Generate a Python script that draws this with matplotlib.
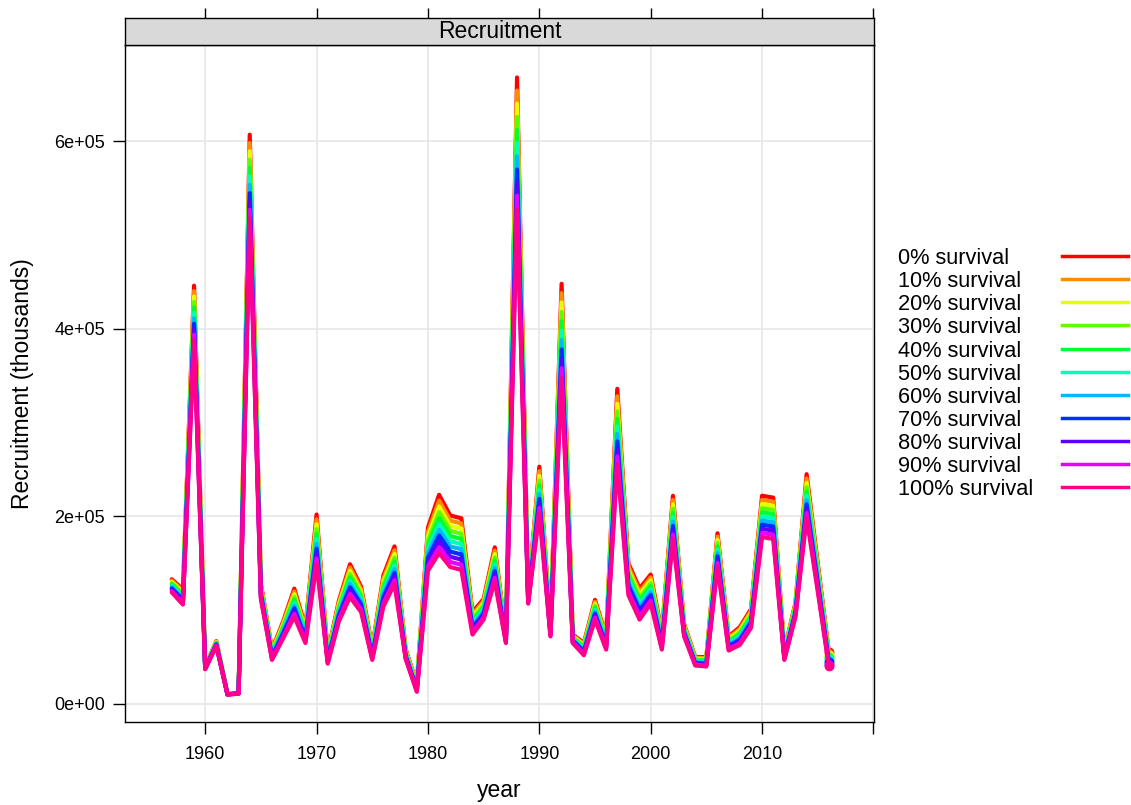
import matplotlib
matplotlib.use("Agg")
import matplotlib.pyplot as plt
from matplotlib.lines import Line2D
import numpy as np

plt.rcParams['font.family'] = ['Liberation Sans', 'DejaVu Sans']

years = np.arange(1957, 2017)

# recruitment estimates (thousands, in 1000s) for each assumed survival level
surv_0 = [133, 122, 446, 40, 67, 11, 12, 607, 128, 58,
          88, 123, 82, 202, 54, 110, 149, 125, 60, 137,
          168, 58, 22, 188, 223, 201, 198, 98, 112, 167,
          74, 668, 116, 253, 83, 448, 74, 65, 111, 72,
          336, 150, 123, 138, 76, 222, 85, 50, 50, 182,
          72, 82, 101, 222, 220, 57, 108, 245, 150, 55]
surv_10 = [131.6, 120.4, 440.2, 39.7, 66.5, 10.9, 11.9, 598.1, 126.4, 56.9,
           86.2, 120.0, 80.3, 196.8, 52.9, 107.8, 145.5, 122.3, 58.7, 133.7,
           164.0, 57.0, 21.1, 183.4, 216.8, 195.5, 192.5, 95.6, 109.8, 163.4,
           73.1, 654.0, 115.1, 248.1, 81.9, 438.0, 73.1, 63.7, 108.9, 70.6,
           328.0, 146.6, 119.7, 134.9, 74.2, 217.4, 83.7, 49.1, 49.0, 178.5,
           70.5, 80.1, 99.0, 217.6, 215.6, 56.0, 106.5, 240.4, 147.0, 53.5]
surv_20 = [130.2, 118.8, 434.4, 39.4, 66.0, 10.8, 11.8, 589.2, 124.8, 55.8,
           84.4, 117.0, 78.6, 191.6, 51.8, 105.6, 142.0, 119.6, 57.4, 130.4,
           160.0, 56.0, 20.2, 178.8, 210.6, 190.0, 187.0, 93.2, 107.6, 159.8,
           72.2, 640.0, 114.2, 243.2, 80.8, 428.0, 72.2, 62.4, 106.8, 69.2,
           320.0, 143.2, 116.4, 131.8, 72.4, 212.8, 82.4, 48.2, 48.0, 175.0,
           69.0, 78.2, 97.0, 213.2, 211.2, 55.0, 105.0, 235.8, 144.0, 52.0]
surv_30 = [128.8, 117.2, 428.6, 39.1, 65.5, 10.7, 11.7, 580.3, 123.2, 54.7,
           82.6, 114.0, 76.9, 186.4, 50.7, 103.4, 138.5, 116.9, 56.1, 127.1,
           156.0, 55.0, 19.3, 174.2, 204.4, 184.5, 181.5, 90.8, 105.4, 156.2,
           71.3, 626.0, 113.3, 238.3, 79.7, 418.0, 71.3, 61.1, 104.7, 67.8,
           312.0, 139.8, 113.1, 128.7, 70.6, 208.2, 81.1, 47.3, 47.0, 171.5,
           67.5, 76.3, 95.0, 208.8, 206.8, 54.0, 103.5, 231.2, 141.0, 50.5]
surv_40 = [127.4, 115.6, 422.8, 38.8, 65.0, 10.6, 11.6, 571.4, 121.6, 53.6,
           80.8, 111.0, 75.2, 181.2, 49.6, 101.2, 135.0, 114.2, 54.8, 123.8,
           152.0, 54.0, 18.4, 169.6, 198.2, 179.0, 176.0, 88.4, 103.2, 152.6,
           70.4, 612.0, 112.4, 233.4, 78.6, 408.0, 70.4, 59.8, 102.6, 66.4,
           304.0, 136.4, 109.8, 125.6, 68.8, 203.6, 79.8, 46.4, 46.0, 168.0,
           66.0, 74.4, 93.0, 204.4, 202.4, 53.0, 102.0, 226.6, 138.0, 49.0]
surv_50 = [126.0, 114.0, 417.0, 38.5, 64.5, 10.5, 11.5, 562.5, 120.0, 52.5,
           79.0, 108.0, 73.5, 176.0, 48.5, 99.0, 131.5, 111.5, 53.5, 120.5,
           148.0, 53.0, 17.5, 165.0, 192.0, 173.5, 170.5, 86.0, 101.0, 149.0,
           69.5, 598.0, 111.5, 228.5, 77.5, 398.0, 69.5, 58.5, 100.5, 65.0,
           296.0, 133.0, 106.5, 122.5, 67.0, 199.0, 78.5, 45.5, 45.0, 164.5,
           64.5, 72.5, 91.0, 200.0, 198.0, 52.0, 100.5, 222.0, 135.0, 47.5]
surv_60 = [124.6, 112.4, 411.2, 38.2, 64.0, 10.4, 11.4, 553.6, 118.4, 51.4,
           77.2, 105.0, 71.8, 170.8, 47.4, 96.8, 128.0, 108.8, 52.2, 117.2,
           144.0, 52.0, 16.6, 160.4, 185.8, 168.0, 165.0, 83.6, 98.8, 145.4,
           68.6, 584.0, 110.6, 223.6, 76.4, 388.0, 68.6, 57.2, 98.4, 63.6,
           288.0, 129.6, 103.2, 119.4, 65.2, 194.4, 77.2, 44.6, 44.0, 161.0,
           63.0, 70.6, 89.0, 195.6, 193.6, 51.0, 99.0, 217.4, 132.0, 46.0]
surv_70 = [123.2, 110.8, 405.4, 37.9, 63.5, 10.3, 11.3, 544.7, 116.8, 50.3,
           75.4, 102.0, 70.1, 165.6, 46.3, 94.6, 124.5, 106.1, 50.9, 113.9,
           140.0, 51.0, 15.7, 155.8, 179.6, 162.5, 159.5, 81.2, 96.6, 141.8,
           67.7, 570.0, 109.7, 218.7, 75.3, 378.0, 67.7, 55.9, 96.3, 62.2,
           280.0, 126.2, 99.9, 116.3, 63.4, 189.8, 75.9, 43.7, 43.0, 157.5,
           61.5, 68.7, 87.0, 191.2, 189.2, 50.0, 97.5, 212.8, 129.0, 44.5]
surv_80 = [121.8, 109.2, 399.6, 37.6, 63.0, 10.2, 11.2, 535.8, 115.2, 49.2,
           73.6, 99.0, 68.4, 160.4, 45.2, 92.4, 121.0, 103.4, 49.6, 110.6,
           136.0, 50.0, 14.8, 151.2, 173.4, 157.0, 154.0, 78.8, 94.4, 138.2,
           66.8, 556.0, 108.8, 213.8, 74.2, 368.0, 66.8, 54.6, 94.2, 60.8,
           272.0, 122.8, 96.6, 113.2, 61.6, 185.2, 74.6, 42.8, 42.0, 154.0,
           60.0, 66.8, 85.0, 186.8, 184.8, 49.0, 96.0, 208.2, 126.0, 43.0]
surv_90 = [120.4, 107.6, 393.8, 37.3, 62.5, 10.1, 11.1, 526.9, 113.6, 48.1,
           71.8, 96.0, 66.7, 155.2, 44.1, 90.2, 117.5, 100.7, 48.3, 107.3,
           132.0, 49.0, 13.9, 146.6, 167.2, 151.5, 148.5, 76.4, 92.2, 134.6,
           65.9, 542.0, 107.9, 208.9, 73.1, 358.0, 65.9, 53.3, 92.1, 59.4,
           264.0, 119.4, 93.3, 110.1, 59.8, 180.6, 73.3, 41.9, 41.0, 150.5,
           58.5, 64.9, 83.0, 182.4, 180.4, 48.0, 94.5, 203.6, 123.0, 41.5]
surv_100 = [119, 106, 388, 37, 62, 10, 11, 518, 112, 47,
            70, 93, 65, 150, 43, 88, 114, 98, 47, 104,
            128, 48, 13, 142, 161, 146, 143, 74, 90, 131,
            65, 528, 107, 204, 72, 348, 65, 52, 90, 58,
            256, 116, 90, 107, 58, 176, 72, 41, 40, 147,
            57, 63, 81, 178, 176, 47, 93, 199, 120, 40]

series = [surv_0, surv_10, surv_20, surv_30, surv_40, surv_50,
          surv_60, surv_70, surv_80, surv_90, surv_100]
labels = ["0% survival", "10% survival", "20% survival", "30% survival",
          "40% survival", "50% survival", "60% survival", "70% survival",
          "80% survival", "90% survival", "100% survival"]
# R rainbow(11)
colors = ["#FF0000", "#FF8B00", "#E8FF00", "#5DFF00", "#00FF2E", "#00FFB9",
          "#00B9FF", "#002EFF", "#5D00FF", "#E800FF", "#FF008B"]

W, H = 1131, 805
fig = plt.figure(figsize=(W / 100, H / 100), dpi=100)

# panel and strip positions in pixels
px_l, px_r, px_t, px_b = 125, 874, 45, 722
ax = fig.add_axes([px_l / W, 1 - px_b / H, (px_r - px_l) / W, (px_b - px_t) / H])
strip = fig.add_axes([px_l / W, 1 - px_t / H, (px_r - px_l) / W, 27 / H])

for vals, col in zip(series, colors):
    v = np.array(vals) * 1000
    ax.plot(years, v, color=col, lw=3, solid_capstyle='round',
            solid_joinstyle='round')
    ax.plot(years[-1], v[-1], 'o', color=col, ms=6)

ax.set_xlim(1952.8, 2020.05)
ax.set_ylim(-19200, 702600)
xt = [1960, 1970, 1980, 1990, 2000, 2010, 2020]
ax.set_xticks(xt)
ax.set_xticklabels(["1960", "1970", "1980", "1990", "2000", "2010", ""])
yt = [0, 200000, 400000, 600000]
ax.set_yticks(yt)
ax.set_yticklabels(["0e+00", "2e+05", "4e+05", "6e+05"])
ax.grid(True, color="#e6e6e6", lw=1.2)
ax.set_axisbelow(True)
ax.tick_params(axis='x', direction='out', length=8.5, width=1, labelsize=13,
               pad=9, bottom=True, top=False)
ax.tick_params(axis='y', direction='out', length=8.5, width=1, labelsize=13,
               pad=6, left=True, right=False)
for s in ax.spines.values():
    s.set_linewidth(1)
ax.set_xlabel("year", fontsize=16.5, va='center')
ax.xaxis.set_label_coords(0.5, -(790 - px_b) / (px_b - px_t))
ax.set_ylabel("Recruitment (thousands)", fontsize=16.5, va='center')
ax.yaxis.set_label_coords(-(px_l - 23) / (px_r - px_l), 0.5)

# strip with top ticks
strip.set_facecolor("#d9d9d9")
strip.set_xlim(ax.get_xlim())
strip.set_ylim(0, 1)
strip.set_yticks([])
strip.set_xticks(xt)
strip.tick_params(axis='x', direction='out', length=7.5, width=1,
                  bottom=False, top=True, labelbottom=False, labeltop=False)
for s in strip.spines.values():
    s.set_linewidth(1)
strip.text(0.5, 0.5, "Recruitment", transform=strip.transAxes,
           ha='center', va='center', fontsize=16.5)

# key: labels left aligned, lines in a column to the right
for i, (lab, col) in enumerate(zip(labels, colors)):
    yp = 1 - (256 + 23.13 * i) / H
    fig.text(898 / W, yp, lab, ha='left', va='center_baseline', fontsize=15.7)
    fig.add_artist(Line2D([1062 / W, 1128 / W], [yp, yp], color=col, lw=2.5))

fig.savefig("out.png", dpi=100)
